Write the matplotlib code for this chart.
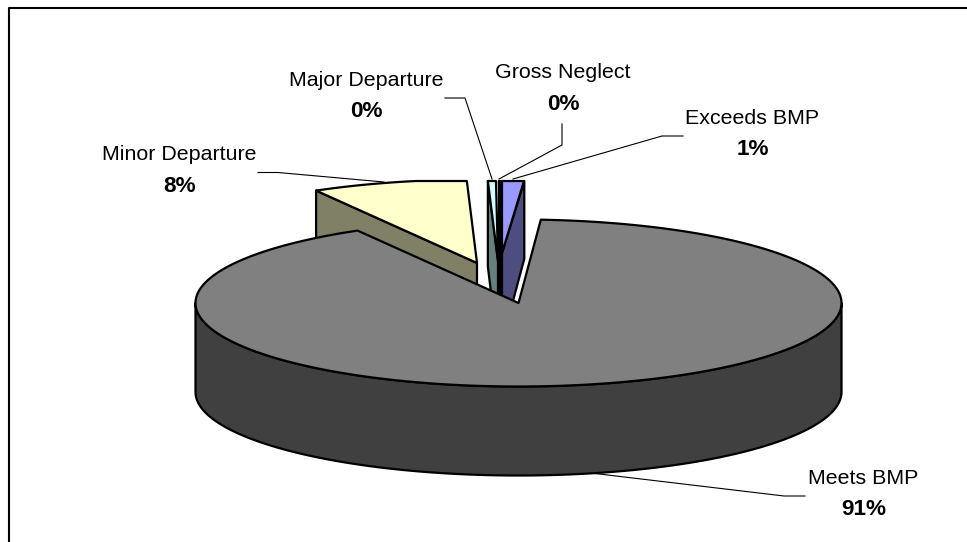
import numpy as np
import matplotlib
matplotlib.use("Agg")
import matplotlib.pyplot as plt
from matplotlib.patches import Polygon

plt.rcParams['font.family'] = ['Liberation Sans', 'DejaVu Sans']

# percent shares, clockwise from 12 o'clock
names = ['Exceeds BMP', 'Meets BMP', 'Minor Departure', 'Major Departure', 'Gross Neglect']
values = [1.1, 90.6, 7.8, 0.4, 0.1]
labels = ['1%', '91%', '8%', '0%', '0%']
top_colors = ['#9999FF', '#808080', '#FFFFCC', '#CCFFFF', '#000000']
side_colors = ['#4D4D80', '#404040', '#808066', '#668080', '#000000']

# where each slice's apex ended up after the explode
apex = {'Exceeds BMP': (502, 253), 'Meets BMP': (518.5, 303), 'Minor Departure': (477, 263),
        'Major Departure': (498, 261), 'Gross Neglect': (501, 258)}
rx, ry = 323, 83.5
depth = 89
clip_top = 181
lw = 1.6

fig = plt.figure(figsize=(9.67, 5.42), dpi=100)
ax = fig.add_axes([0, 0, 1, 1])
ax.set_xlim(0, 967)
ax.set_ylim(542, 0)
ax.axis('off')

ax.plot([9, 9, 967], [542, 7.5, 7.5], color='black', lw=1.5)


def arc(c, t0, t1):
    t = np.radians(np.linspace(t0, t1, 300))
    return np.column_stack([c[0] + rx * np.sin(t), c[1] - ry * np.cos(t)])


def poly(pts, fc, z):
    # plot area cuts the exploded slices off flat at the top
    pts = np.array(pts)
    pts[:, 1] = np.maximum(pts[:, 1], clip_top)
    ax.add_patch(Polygon(pts, closed=True, fc=fc, ec='black', lw=lw, joinstyle='round', zorder=z))


starts = np.cumsum([0] + values[:-1]) * 3.6
ends = np.cumsum(values) * 3.6


def draw_slice(i, z):
    c = np.array(apex[names[i]], dtype=float)
    a = arc(c, starts[i], ends[i])
    down = np.array([0, depth])
    if names[i] == 'Meets BMP':
        # outer wall only shows on the front half
        f = arc(c, 90, 270)
        poly(np.vstack([f, (f + down)[::-1]]), side_colors[i], z)
    elif names[i] == 'Exceeds BMP':
        poly(np.vstack([c, a[-1], a[-1] + down, c + down]), side_colors[i], z)
    else:
        poly(np.vstack([c, a[0], a[0] + down, c + down]), side_colors[i], z)
    poly(np.vstack([c, a]), top_colors[i], z + 0.1)


draw_slice(2, 2)
draw_slice(3, 3)
draw_slice(4, 4)
draw_slice(0, 5)
draw_slice(1, 6)

# leader lines
leaders = [
    [(258, 172.5), (278, 172.5), (384, 182)],
    [(445, 98), (465, 98), (492, 179)],
    [(562, 124), (562, 145), (499, 179)],
    [(683, 136), (662, 136), (513, 179)],
    [(805, 496), (784, 496), (595, 473.5)],
]
for pts in leaders:
    pts = np.array(pts)
    ax.plot(pts[:, 0], pts[:, 1], color='black', lw=0.8, zorder=8)

# label centres: name line, then bold percent below it
positions = {'Minor Departure': (179.5, 155), 'Major Departure': (366, 80), 'Gross Neglect': (563, 72.5),
             'Exceeds BMP': (752.5, 118), 'Meets BMP': (863.5, 478)}
for name, pct in zip(names, labels):
    x, y = positions[name]
    ax.text(x, y, name, ha='center', va='center', fontsize=15.4, color='black', zorder=9)
    ax.text(x, y + 31.5, pct, ha='center', va='center', fontsize=16.2, fontweight='bold', color='black', zorder=9)

fig.savefig('out.png', dpi=100)
